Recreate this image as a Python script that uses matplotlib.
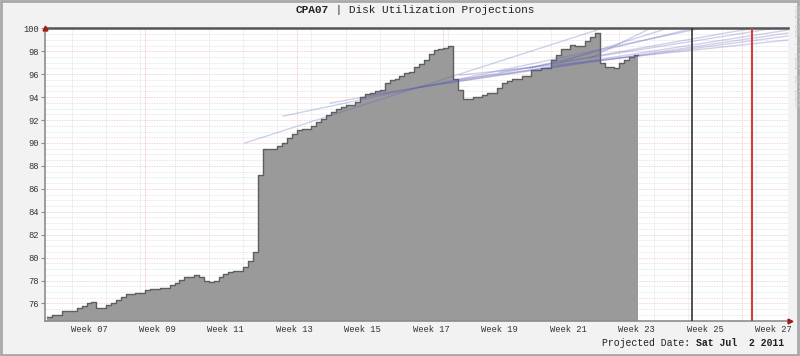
import numpy as np
import matplotlib
matplotlib.use("Agg")
import matplotlib.pyplot as plt

# daily disk utilisation (%), day 0 = Mon 14 Feb 2011 (start of week 07)
first_day = -5
usage = [
    74.78, 74.98, 74.98, 75.36, 75.36, 75.36, 75.57, 75.80, 76.00, 76.10,
    75.60, 75.65, 75.86, 76.06, 76.30, 76.53, 76.79, 76.79, 76.93, 76.93,
    77.16, 77.28, 77.28, 77.37, 77.37, 77.57, 77.75, 78.04, 78.33, 78.33,
    78.45, 78.27, 77.98, 77.86, 77.98, 78.33, 78.56, 78.73, 78.85, 78.85,
    79.14, 79.72, 80.50, 87.20, 89.44, 89.44, 89.50, 89.73, 90.02, 90.40,
    90.78, 91.12, 91.20, 91.20, 91.50, 91.80, 92.10, 92.40, 92.70, 93.00,
    93.10, 93.30, 93.30, 93.60, 94.00, 94.30, 94.40, 94.50, 94.60, 95.20,
    95.50, 95.60, 95.84, 96.07, 96.20, 96.65, 96.90, 97.23, 97.80, 98.10,
    98.17, 98.25, 98.50, 95.60, 94.60, 93.83, 93.83, 93.98, 93.98, 94.18,
    94.38, 94.38, 94.76, 95.20, 95.40, 95.55, 95.55, 95.84, 95.84, 96.36,
    96.36, 96.56, 96.56, 97.23, 97.67, 98.17, 98.17, 98.54, 98.45, 98.45,
    98.92, 99.27, 99.56, 97.00, 96.65, 96.65, 96.56, 96.95, 97.23, 97.47,
    97.67,
]
data_end = 115.8

week_labels = ["Week 07", "Week 09", "Week 11", "Week 13", "Week 15", "Week 17",
               "Week 19", "Week 21", "Week 23", "Week 25", "Week 27"]
week_label_days = [3.5, 17.5, 31.5, 45.5, 59.5, 73.5, 87.5, 101.5, 115.5, 129.5, 143.5]
month_days = [15, 46, 76, 107, 137]          # 1 Mar .. 1 Jul
week_days = [0, 7, 14, 21, 28, 35, 42, 49, 56, 63, 70, 77, 84, 91, 98,
             105, 112, 119, 126, 133, 140]

now_day = 126.9        # black marker
projected_day = 139.2  # Sat Jul 2 2011

# least-squares projection lines: start day, start value, value at right edge
proj_start_day = [35.4, 43.2, 52.8, 61.0, 71.2, 78.4, 79.4, 87.6, 93.7, 99.9, 106.0]
proj_start_val = [90.0, 92.34, 93.48, 94.18, 94.87, 95.49, 95.92, 96.19, 96.54, 97.06, 97.41]
proj_end_val = [105.2, 101.6, 100.55, 99.85, 99.59, 99.33, 98.98, 100.2, 102.0, 103.3, 105.9]

x_min, x_max = -5.5, 146.5
y_min, y_max = 74.5, 100

mono = "Liberation Mono"

fig = plt.figure(figsize=(8, 3.56), dpi=100, facecolor="#f2f2f2")
ax = fig.add_axes([45 / 800, 1 - 320.7 / 356, (788 - 45) / 800, (320.7 - 28.3) / 356])
ax.set_facecolor("white")
ax.set_xlim(x_min, x_max)
ax.set_ylim(y_min, y_max)

# grid
for v in np.arange(75, 100, 0.5):
    if v % 2 == 0:
        ax.axhline(v, color="#f2c4c4", lw=0.6, ls=(0, (1, 1)), zorder=0)
    else:
        ax.axhline(v, color="#dedede", lw=0.6, ls=(0, (1, 1)), zorder=0)
for d in week_days:
    ax.axvline(d, color="#dedede", lw=0.6, ls=(0, (1, 1)), zorder=0)
for d in month_days:
    ax.axvline(d, color="#f2c4c4", lw=0.7, ls=(0, (1, 1)), zorder=0)

# utilisation area
days = list(np.arange(first_day, first_day + len(usage))) + [data_end]
vals = usage + [usage[-1]]
ax.fill_between(days, vals, y_min, step="post", color="#9a9a9a", lw=0, zorder=2)
ax.step(days, vals, where="post", color="#5e5e5e", lw=1.0, zorder=3)

# projections
for s, v0, v1 in zip(proj_start_day, proj_start_val, proj_end_val):
    ax.plot([s, x_max], [v0, v1], color="#5a5ab8", alpha=0.28, lw=1.0, zorder=4)

ax.axhline(100, color="#555555", lw=1.8, zorder=5, clip_on=False)
ax.axvline(now_day, color="#333333", lw=1.2, zorder=5)
ax.axvline(projected_day, color="#d23c3c", lw=1.5, zorder=5)

for side in ["top", "right"]:
    ax.spines[side].set_visible(False)
for side in ["left", "bottom"]:
    ax.spines[side].set_color("#8c8c8c")
    ax.spines[side].set_linewidth(1.2)

ax.plot([0], [1.0], marker="^", ms=3.5, color="#9c1c1c", transform=ax.transAxes, clip_on=False, zorder=6)
ax.plot([1.003], [0], marker=">", ms=3.5, color="#9c1c1c", transform=ax.transAxes, clip_on=False, zorder=6)

ax.set_yticks(range(76, 101, 2))
ax.set_yticklabels([str(v) for v in range(76, 101, 2)], family=mono, fontsize=6.3, color="#333333")
ax.tick_params(axis="y", length=3, color="#8c8c8c", pad=1.5)
ax.set_xticks(week_label_days)
ax.set_xticklabels(week_labels, family=mono, fontsize=6.3, color="#333333")
ax.tick_params(axis="x", length=0, pad=3)

# title
fig.text(296 / 800, 1 - 10 / 356, "CPA07", family=mono, fontsize=8, fontweight="bold",
         ha="left", va="center", color="#222222")
fig.text(329.2 / 800, 1 - 10 / 356, " | Disk Utilization Projections", family=mono, fontsize=8,
         ha="left", va="center", color="#222222")

# footer
fig.text(601.7 / 800, 1 - 342.7 / 356, "Projected Date: ", family=mono, fontsize=7.1,
         ha="left", va="center", color="#222222")
fig.text(696.3 / 800, 1 - 342.7 / 356, "Sat Jul  2 2011", family=mono, fontsize=7.1,
         fontweight="bold", ha="left", va="center", color="#222222")

fig.text(795 / 800, 1 - 5 / 356, "RRDTOOL / TOBI OETIKER", family=mono, fontsize=5.5,
         rotation=270, ha="center", va="top", color="#c8c8c8")

# frame
fig.patches.append(plt.Rectangle((0.001, 0.003), 0.997, 0.995, transform=fig.transFigure,
                                 fill=False, edgecolor="#a8a8a8", lw=2))

fig.savefig("out.png", dpi=100, facecolor=fig.get_facecolor())
